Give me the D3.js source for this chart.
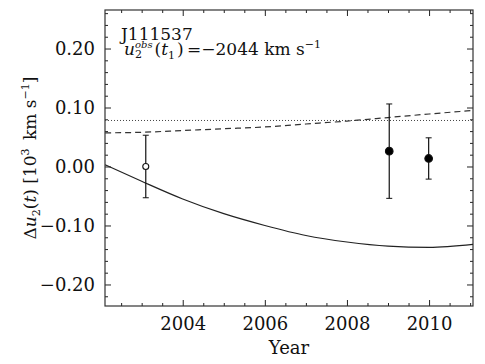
<!DOCTYPE html>
<html>
<head>
<meta charset="utf-8">
<script src="https://cdn.jsdelivr.net/npm/d3@7"></script>
<style>
  body { margin: 0; background: #fff; }
  svg text { font-family: "DejaVu Serif", serif; fill: #111; }
</style>
</head>
<body>
<div id="chart"></div>
<script>
// model curves
var curveYears = [2002.11, 2003, 2004, 2005, 2006, 2007, 2008, 2009, 2010, 2011.07];
var solidValues = [0.003, -0.025, -0.055, -0.080, -0.100, -0.117, -0.128, -0.135, -0.137, -0.132];
var dashedValues = [0.057, 0.058, 0.061, 0.064, 0.067, 0.072, 0.077, 0.083, 0.089, 0.095];
var dottedLevel = 0.078;

// observations
var obsYears = [2003.1, 2009.03, 2009.99];
var obsValues = [0.000, 0.026, 0.0136];
var obsErrors = [0.053, 0.080, 0.035];
var obsFilled = [false, true, true];

var xMajor = [2004, 2006, 2008, 2010];
var yMajor = [-0.2, -0.1, 0, 0.1, 0.2];

var margin = {top: 10, right: 12, bottom: 58, left: 105};
var width = 485 - margin.left - margin.right;
var height = 364 - margin.top - margin.bottom;

var x = d3.scaleLinear().domain([2002.107, 2011.07]).range([0, width]);
var y = d3.scaleLinear().domain([-0.2365, 0.2653]).range([height, 0]);

var xMinor = d3.range(2002.5, 2011.01, 0.5).filter(function (v) { return xMajor.indexOf(v) < 0; });
var yMinor = d3.range(-22, 27, 2).map(function (v) { return v / 100; })
    .filter(function (v) { return Math.abs(Math.round(v * 100) % 10) !== 0; });

var svg = d3.select('#chart').append('svg')
    .attr('width', 485)
    .attr('height', 364)
    .append('g')
    .attr('transform', 'translate(' + margin.left + ',' + margin.top + ')');

var fmt = d3.format('.2f');

// axes, ticks pointing inward on all four sides
function addAxis(gen, tx, ty, cls) {
  var g = svg.append('g')
    .attr('class', cls)
    .attr('transform', 'translate(' + tx + ',' + ty + ')')
    .call(gen);
  g.select('.domain').remove();
  g.selectAll('line').attr('stroke', '#222').attr('stroke-width', 1);
  g.selectAll('text').style('font-size', '18px').style('font-family', '"DejaVu Serif", serif');
  return g;
}

addAxis(d3.axisBottom(x).tickValues(xMajor).tickSize(-6).tickPadding(11).tickFormat(d3.format('d')), 0, height, 'x-axis');
addAxis(d3.axisBottom(x).tickValues(xMinor).tickSize(-3).tickFormat(''), 0, height, 'x-minor');
addAxis(d3.axisTop(x).tickValues(xMajor).tickSize(-6).tickFormat(''), 0, 0, 'x-top');
addAxis(d3.axisTop(x).tickValues(xMinor).tickSize(-3).tickFormat(''), 0, 0, 'x-top-minor');

addAxis(d3.axisLeft(y).tickValues(yMajor).tickSize(-6).tickPadding(10).tickFormat(fmt), 0, 0, 'y-axis');
addAxis(d3.axisLeft(y).tickValues(yMinor).tickSize(-3).tickFormat(''), 0, 0, 'y-minor');
addAxis(d3.axisRight(y).tickValues(yMajor).tickSize(-6).tickFormat(''), width, 0, 'y-right');
addAxis(d3.axisRight(y).tickValues(yMinor).tickSize(-3).tickFormat(''), width, 0, 'y-right-minor');

// frame
svg.append('rect')
  .attr('width', width)
  .attr('height', height)
  .attr('fill', 'none')
  .attr('stroke', '#333')
  .attr('stroke-width', 1.2);

// curves
var line = d3.line()
    .curve(d3.curveMonotoneX)
    .x(function (d) { return x(d[0]); })
    .y(function (d) { return y(d[1]); });

svg.append('path')
  .datum(curveYears.map(function (t, i) { return [t, solidValues[i]]; }))
  .attr('d', line)
  .attr('fill', 'none')
  .attr('stroke', '#222')
  .attr('stroke-width', 1.2);

svg.append('path')
  .datum(curveYears.map(function (t, i) { return [t, dashedValues[i]]; }))
  .attr('d', line)
  .attr('fill', 'none')
  .attr('stroke', '#333')
  .attr('stroke-width', 1.2)
  .attr('stroke-dasharray', '6,4');

svg.append('line')
  .attr('x1', 0)
  .attr('x2', width)
  .attr('y1', y(dottedLevel))
  .attr('y2', y(dottedLevel))
  .attr('stroke', '#444')
  .attr('stroke-width', 1)
  .attr('stroke-dasharray', '1,2');

// observations with error bars
var obs = obsYears.map(function (t, i) {
  return {t: t, v: obsValues[i], e: obsErrors[i], filled: obsFilled[i]};
});

var pt = svg.selectAll('.obs')
    .data(obs)
    .enter()
    .append('g')
    .attr('class', 'obs');

pt.append('line')
  .attr('x1', function (d) { return x(d.t); })
  .attr('x2', function (d) { return x(d.t); })
  .attr('y1', function (d) { return y(d.v - d.e); })
  .attr('y2', function (d) { return y(d.v + d.e); })
  .attr('stroke', '#111')
  .attr('stroke-width', 1.2);

[-1, 1].forEach(function (s) {
  pt.append('line')
    .attr('x1', function (d) { return x(d.t) - 3; })
    .attr('x2', function (d) { return x(d.t) + 3; })
    .attr('y1', function (d) { return y(d.v + s * d.e); })
    .attr('y2', function (d) { return y(d.v + s * d.e); })
    .attr('stroke', '#111')
    .attr('stroke-width', 1);
});

pt.append('circle')
  .attr('cx', function (d) { return x(d.t); })
  .attr('cy', function (d) { return y(d.v); })
  .attr('r', function (d) { return d.filled ? 3.8 : 3; })
  .attr('fill', function (d) { return d.filled ? '#000' : '#fff'; })
  .attr('stroke', '#111')
  .attr('stroke-width', 1.1);

// annotation
svg.append('text')
  .attr('x', 16)
  .attr('y', 30)
  .style('font-size', '17px')
  .text('J111537');

var ann = svg.append('text')
  .attr('x', 19)
  .attr('y', 45)
  .style('font-size', '17px');
ann.append('tspan').style('font-style', 'italic').text('u');
ann.append('tspan').attr('dy', 3).style('font-size', '11px').text('2');
ann.append('tspan').attr('dx', -7).attr('dy', -10).style('font-size', '10px').style('font-style', 'italic').text('obs');
ann.append('tspan').attr('dx', 2).attr('dy', 7).text('(');
ann.append('tspan').style('font-style', 'italic').text('t');
ann.append('tspan').attr('dy', 4).style('font-size', '11px').text('1');
ann.append('tspan').attr('dx', 2).attr('dy', -4).text(')\u2009=\u22122044 km s');
ann.append('tspan').attr('dy', -7).style('font-size', '11px').text('\u22121');

// axis titles
svg.append('text')
  .attr('x', width / 2)
  .attr('y', height + 48)
  .attr('text-anchor', 'middle')
  .style('font-size', '18px')
  .text('Year');

var yl = svg.append('text')
  .attr('transform', 'translate(' + (-69) + ',' + (height / 2) + ') rotate(-90)')
  .attr('text-anchor', 'middle')
  .style('font-size', '17px');
yl.append('tspan').text('\u0394');
yl.append('tspan').style('font-style', 'italic').text('u');
yl.append('tspan').attr('dy', 4).style('font-size', '11px').text('2');
yl.append('tspan').attr('dy', -4).text('(');
yl.append('tspan').style('font-style', 'italic').text('t');
yl.append('tspan').text(') [10');
yl.append('tspan').attr('dy', -7).style('font-size', '11px').text('3');
yl.append('tspan').attr('dy', 7).text('\u2002km s');
yl.append('tspan').attr('dy', -7).style('font-size', '11px').text('\u22121');
yl.append('tspan').attr('dy', 7).text(']');
</script>
</body>
</html>
